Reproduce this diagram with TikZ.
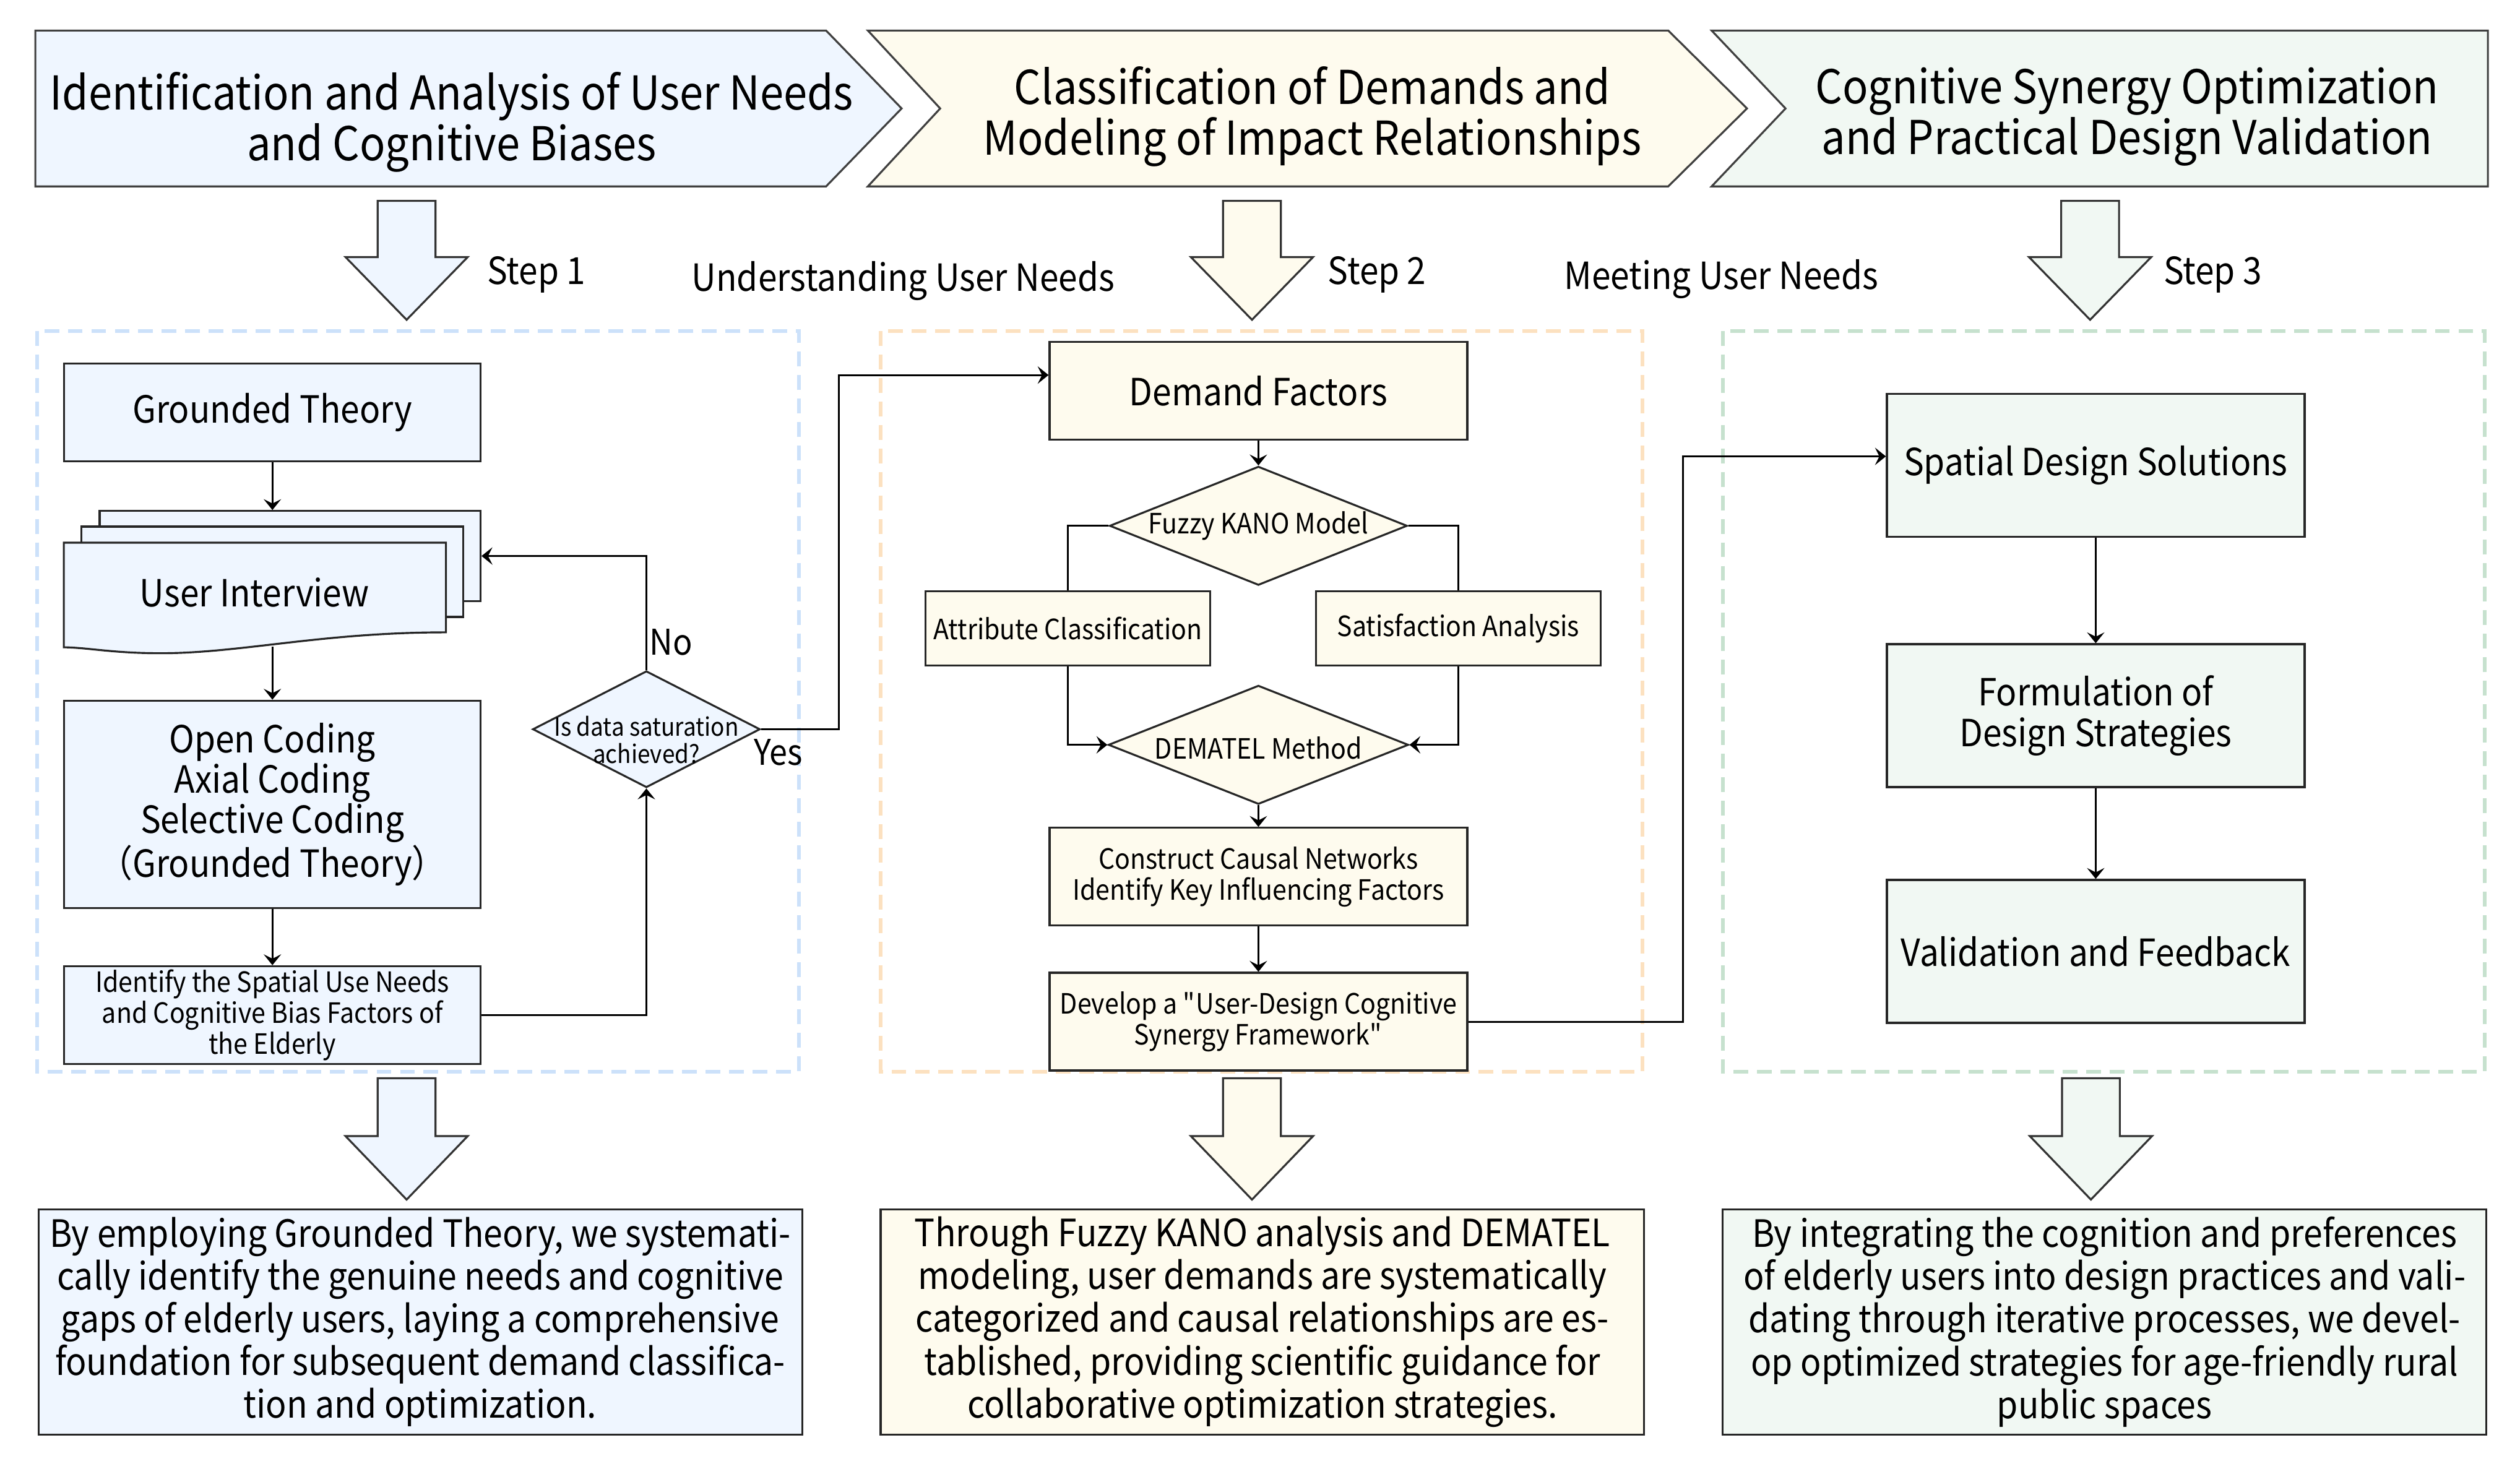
\documentclass[tikz,border=0pt]{standalone}
\usepackage{fontspec}
\setmainfont{Noto Sans CJK SC}[FakeStretch=0.91]
\usepackage{tikz}
\usetikzlibrary{shapes.geometric, arrows.meta, positioning}

\definecolor{fillA}{RGB}{239,246,255}
\definecolor{fillB}{RGB}{254,251,238}
\definecolor{fillC}{RGB}{241,248,243}
\definecolor{dashA}{RGB}{204,225,250}
\definecolor{dashB}{RGB}{252,225,192}
\definecolor{dashC}{RGB}{198,225,206}

\newcommand{\headfont}{\fontsize{21.45}{23.3}\selectfont}
\newcommand{\boxfont}{\fontsize{17.2}{18.6}\selectfont}
\newcommand{\smallboxfont}{\fontsize{12.85}{14.3}\selectfont}
\newcommand{\tinyfont}{\fontsize{11.55}{12.3}\selectfont}
\newcommand{\labelfont}{\fontsize{17.2}{20}\selectfont}
\newcommand{\answerfont}{\fontsize{16.3}{18}\selectfont}
\newcommand{\notefont}{\fontsize{17.3}{19.7}\selectfont}

\begin{document}
\begin{tikzpicture}[
        x=0.02597cm, y=0.02597cm,
        every node/.style={inner sep=0pt, align=center},
        box/.style={draw=black!85, line width=0.9pt, font=\boxfont},
        bigbox/.style={box, minimum width=6.73cm, minimum height=1.58cm},
        sheet/.style={draw=black!85, line width=0.9pt, fill=fillA},
        decision/.style={diamond, draw=black!85, line width=0.9pt},
        note/.style={box, font=\notefont, minimum width=12.34cm, minimum height=3.64cm},
        chevron/.style={draw=black!75, line width=0.9pt},
        steparrow/.style={draw=black!80, line width=0.9pt},
        frame/.style={line width=1.6pt, dash pattern=on 6.8pt off 4pt},
        to/.style={-{Stealth[length=5pt,width=8pt,inset=2pt]}, line width=0.85pt},
        link/.style={line width=0.85pt},
        ]
      \fill[white] (0,0) rectangle (1568,-914);
      \useasboundingbox (0,0) rectangle (1568,-914);

      % stages
      \draw[chevron, fill=fillA] (22,-19) -- (514,-19) -- (561,-67.5) -- (514,-116) -- (22,-116) -- cycle;
      \draw[chevron, fill=fillB] (540,-19) -- (1038,-19) -- (1087,-67.5) -- (1038,-116) -- (540,-116) -- (585,-67.5) -- cycle;
      \draw[chevron, fill=fillC] (1065,-19) -- (1548,-19) -- (1548,-116) -- (1065,-116) -- (1111,-67.5) -- cycle;
      \node [font=\headfont] (head1) at (281,-76) {Identification and Analysis of User Needs\\and Cognitive Biases};
      \node [font=\headfont] (head2) at (816.5,-72.5) {Classification of Demands and\\Modeling of Impact Relationships};
      \node [font=\headfont] (head3) at (1323.5,-72.5) {Cognitive Synergy Optimization\\and Practical Design Validation};

      % block arrows
      \draw[steparrow, fill=fillA, shift={(253,-125)}] (-18,0) -- (18,0) -- (18,-35) -- (38,-35) -- (0,-74) -- (-38,-35) -- (-18,-35) -- cycle;
      \draw[steparrow, fill=fillB, shift={(779,-125)}] (-18,0) -- (18,0) -- (18,-35) -- (38,-35) -- (0,-74) -- (-38,-35) -- (-18,-35) -- cycle;
      \draw[steparrow, fill=fillC, shift={(1300.5,-125)}] (-18,0) -- (18,0) -- (18,-35) -- (38,-35) -- (0,-74) -- (-38,-35) -- (-18,-35) -- cycle;
      \draw[steparrow, fill=fillA, shift={(253,-671)}] (-18,0) -- (18,0) -- (18,-36) -- (38,-36) -- (0,-75.5) -- (-38,-36) -- (-18,-36) -- cycle;
      \draw[steparrow, fill=fillB, shift={(779,-671)}] (-18,0) -- (18,0) -- (18,-36) -- (38,-36) -- (0,-75.5) -- (-38,-36) -- (-18,-36) -- cycle;
      \draw[steparrow, fill=fillC, shift={(1301,-671)}] (-18,0) -- (18,0) -- (18,-36) -- (38,-36) -- (0,-75.5) -- (-38,-36) -- (-18,-36) -- cycle;

      \node [font=\labelfont, anchor=base west] (step1) at (303,-177) {Step 1};
      \node [font=\labelfont, anchor=base] (understand) at (562,-181) {Understanding User Needs};
      \node [font=\labelfont, anchor=base west] (step2) at (826,-177) {Step 2};
      \node [font=\labelfont, anchor=base] (meet) at (1071,-180) {Meeting User Needs};
      \node [font=\labelfont, anchor=base west] (step3) at (1346,-177) {Step 3};

      % frames
      \draw[frame, draw=dashA] (23,-206) rectangle (497,-667);
      \draw[frame, draw=dashB] (548,-206) rectangle (1022,-667);
      \draw[frame, draw=dashC] (1072,-206) rectangle (1546,-667);

      % step 1
      \node [bigbox, fill=fillA] (gt) at (169.5,-256.5) {Grounded Theory};
      \node [sheet, minimum width=6.155cm, minimum height=1.454cm] (ui-back) at (180.5,-346) {};
      \node [sheet, minimum width=6.17cm, minimum height=1.46cm] (ui-mid) at (169.5,-355.8) {};
      \draw[sheet] (39.7,-337.7) -- (277.5,-337.7) -- (277.5,-393.5) .. controls (200,-393.5) and (150,-406.5) .. (100,-406.5) .. controls (70,-406.5) and (55,-403) .. (39.7,-402.8) -- cycle;
      \node [font=\boxfont] (interview) at (158.4,-368.6) {User Interview};
      \coordinate (ui-bottom) at (169.5,-402.5);
      \node [bigbox, fill=fillA, minimum height=3.35cm] (oc) at (169.5,-500.5) {Open Coding\\Axial Coding\\Selective Coding\\（Grounded Theory）};
      \node [bigbox, fill=fillA, font=\smallboxfont, below=0.91cm of oc] (identify) {Identify the Spatial Use Needs\\and Cognitive Bias Factors of\\the Elderly};
      \node [decision, fill=fillA, minimum width=3.675cm, minimum height=1.883cm,
             label={[font=\tinyfont, yshift=-0.17cm]center:Is data saturation\\achieved?}] (sat) at (402.2,-453.8) {};
      \node [font=\answerfont, anchor=base west] (no) at (404,-407.5) {No};
      \node [font=\answerfont, anchor=base west] (yes) at (469,-476) {Yes};

      % step 2
      \node [bigbox, fill=fillB, minimum width=6.75cm] (demand) at (783,-243.2) {Demand Factors};
      \node [decision, fill=fillB, minimum width=4.81cm, minimum height=1.92cm, below=0.4cm of demand,
             label={[font=\smallboxfont]center:Fuzzy KANO Model}] (kano) {};
      \node [box, fill=fillB, font=\smallboxfont, minimum width=4.6cm, minimum height=1.2cm] (attr) at (664.5,-391) {Attribute Classification};
      \node [box, fill=fillB, font=\smallboxfont, minimum width=4.6cm, minimum height=1.2cm, right=1.675cm of attr] (satis) {Satisfaction Analysis};
      \node [decision, fill=fillB, minimum width=4.85cm, minimum height=1.92cm,
             label={[font=\smallboxfont, yshift=-0.05cm]center:DEMATEL Method}] (dematel) at (783,-463.5) {};
      \node [bigbox, fill=fillB, font=\smallboxfont, minimum width=6.75cm, below=0.35cm of dematel] (construct) {Construct Causal Networks\\Identify Key Influencing Factors};
      \node [bigbox, fill=fillB, font=\smallboxfont, minimum width=6.75cm, below=0.73cm of construct] (develop) {Develop a \textquotedbl User-Design Cognitive\\Synergy Framework\textquotedbl};

      % step 3
      \node [bigbox, fill=fillC, minimum width=6.75cm, minimum height=2.31cm] (spatial) at (1304,-289.5) {Spatial Design Solutions};
      \node [bigbox, fill=fillC, minimum width=6.75cm, minimum height=2.31cm, below=1.706cm of spatial] (formul) {Formulation of\\Design Strategies};
      \node [bigbox, fill=fillC, minimum width=6.75cm, minimum height=2.31cm, below=1.467cm of formul] (valid) {Validation and Feedback};

      % summaries
      \node [note, fill=fillA] (note1) at (261.5,-822.6) {By employing Grounded Theory, we systemati-\\cally identify the genuine needs and cognitive\\gaps of elderly users, laying a comprehensive\\foundation for subsequent demand classifica-\\tion and optimization.};
      \node [note, fill=fillB] (note2) at (785.5,-822.6) {Through Fuzzy KANO analysis and DEMATEL\\modeling, user demands are systematically\\categorized and causal relationships are es-\\tablished, providing scientific guidance for\\collaborative optimization strategies.};
      \node [note, fill=fillC] (note3) at (1309.5,-822.6) {By integrating the cognition and preferences\\of elderly users into design practices and vali-\\dating through iterative processes, we devel-\\op optimized strategies for age-friendly rural\\public spaces};

      \draw[to] (gt.south) -- (gt.south |- ui-back.north);
      \draw[to] (ui-bottom) -- (oc.north);
      \draw[to] (oc) -- (identify);
      \draw[to] (identify.east) -| (sat.south);
      \draw[to] (sat.north) |- (ui-back.east);
      \coordinate (bend1) at (522,-233.4);
      \draw[to] (sat.east) -| (bend1) -- (bend1 -| demand.west);
      \draw[to] (demand) -- (kano);
      \draw[link] (kano.west) -| (attr.north);
      \draw[link] (kano.east) -| (satis.north);
      \draw[to] (attr.south) |- (dematel.west);
      \draw[to] (satis.south) |- (dematel.east);
      \draw[to] (dematel) -- (construct);
      \draw[to] (construct) -- (develop);
      \coordinate (bend2) at (1047,-284);
      \draw[to] (develop.east) -| (bend2) -- (bend2 -| spatial.west);
      \draw[to] (spatial) -- (formul);
      \draw[to] (formul) -- (valid);
    \end{tikzpicture}
\end{document}
